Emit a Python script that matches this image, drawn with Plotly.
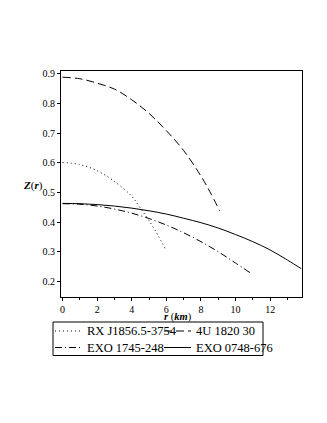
import plotly.graph_objects as go

# RX J1856.5-3754 (dotted)
r_rx = [0, 1, 2, 3, 4, 4.5, 5, 5.5, 5.97]
z_rx = [0.601, 0.594, 0.573, 0.537, 0.487, 0.447, 0.405, 0.357, 0.307]

# 4U 1820 30 (dashed)
r_4u = [0, 1, 2, 3, 4, 5, 6, 7, 8, 8.5, 9.08]
z_4u = [0.888, 0.883, 0.868, 0.848, 0.812, 0.766, 0.708, 0.641, 0.555, 0.504, 0.438]

# EXO 1745-248 (dash-dot)
r_exo1745 = [0, 1, 2, 3, 4, 5, 6, 7, 8, 9, 10, 10.85]
z_exo1745 = [0.462, 0.460, 0.454, 0.444, 0.430, 0.412, 0.390, 0.364, 0.334, 0.300, 0.262, 0.229]

# EXO 0748-676 (solid)
r_exo0748 = [0, 1, 2, 3, 4, 5, 6, 7, 8, 9, 10, 11, 12, 13, 13.8]
z_exo0748 = [0.463, 0.462, 0.459, 0.454, 0.447, 0.438, 0.427, 0.413, 0.398, 0.380, 0.358, 0.334, 0.306, 0.272, 0.243]

x_ticks = [0, 2, 4, 6, 8, 10, 12]
y_ticks = [0.2, 0.3, 0.4, 0.5, 0.6, 0.7, 0.8, 0.9]

# maple-ish line styles
series = [
    ("RX J1856.5-3754", r_rx, z_rx, "1px,3px"),
    ("4U 1820 30", r_4u, z_4u, "8px,4px"),
    ("EXO 1745-248", r_exo1745, z_exo1745, "7px,3px,1px,3px"),
    ("EXO 0748-676", r_exo0748, z_exo0748, "solid"),
]

# page has an 8px body margin, so the figure is drawn 8px in from the corner
OFF = 8
W, H = 327 - OFF, 423 - OFF
L, R, T, B = 61 - OFF, 25, 71 - OFF, 126
PW, PH = W - L - R, H - T - B


def px(x):
    # window pixel -> paper x
    return (x - OFF - L) / PW


def py(y):
    # window pixel -> paper y
    return (H - B - (y - OFF)) / PH


fig = go.Figure()
for name, xs, ys, dash in series:
    fig.add_trace(go.Scatter(
        x=xs, y=ys, mode="lines", name=name,
        line=dict(color="black", width=1, dash=dash, shape="spline"),
    ))

axis_common = dict(
    showline=True, linecolor="black", linewidth=1, mirror=True,
    showgrid=False, zeroline=False,
    ticks="outside", ticklen=3, tickcolor="black", tickwidth=1,
    tickfont=dict(family="Liberation Serif", size=10, color="black"),
)

# legend drawn by hand: 2x2 grid in a box under the plot
shapes = [dict(type="rect", xref="paper", yref="paper",
               x0=px(53), x1=px(263), y0=py(322), y1=py(355.5),
               line=dict(color="black", width=1), fillcolor="white")]
annotations = []
cols = [(55, 80, 85), (164, 191, 194)]
rows = [331, 347.5]
for i, (name, xs, ys, dash) in enumerate(series):
    x0, x1, xt = cols[i % 2]
    yy = rows[i // 2]
    shapes.append(dict(type="line", xref="paper", yref="paper",
                       x0=px(x0), x1=px(x1), y0=py(yy), y1=py(yy),
                       line=dict(color="black", width=1, dash=dash)))
    annotations.append(dict(text=name, xref="paper", yref="paper",
                            x=px(xt), y=py(yy), xanchor="left", yanchor="middle",
                            showarrow=False,
                            font=dict(family="Liberation Serif", size=12.5)))

annotations += [
    dict(text="<b><i>r</i></b> (<b><i>km</i></b>)", xref="paper", yref="paper",
         x=px(177.5), y=py(317), xanchor="center", yanchor="middle", showarrow=False,
         font=dict(family="Liberation Serif", size=10.5)),
    dict(text="<b><i>Z</i></b>(<b><i>r</i></b>)", xref="paper", yref="paper",
         x=px(33), y=py(185), xanchor="center", yanchor="middle", showarrow=False,
         font=dict(family="Liberation Serif", size=11)),
]

fig.update_layout(
    width=W, height=H,
    paper_bgcolor="white", plot_bgcolor="white",
    margin=dict(l=L, r=R, t=T, b=B),
    font=dict(family="Liberation Serif", color="black"),
    xaxis=dict(
        range=[-0.09, 13.84], tickvals=x_ticks,
        minor=dict(dtick=1, ticks="outside", ticklen=2, tickcolor="black"),
        **axis_common,
    ),
    yaxis=dict(range=[0.1476, 0.909], tickvals=y_ticks, tickformat=".1f", **axis_common),
    showlegend=False,
    shapes=shapes,
    annotations=annotations,
)

fig.write_html("out.html")
